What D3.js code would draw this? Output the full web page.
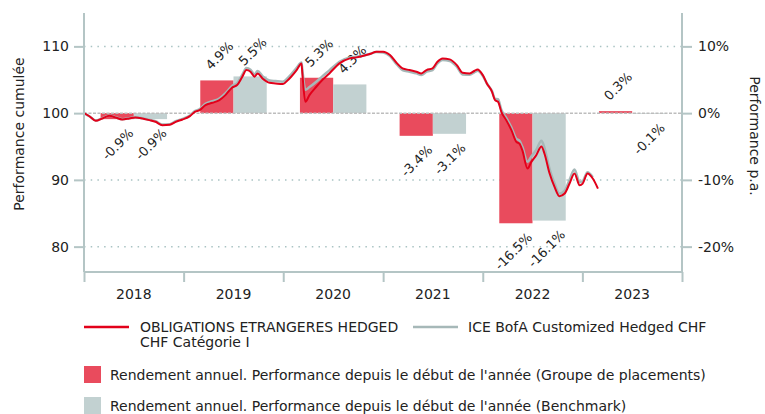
<!DOCTYPE html>
<html>
<head>
<meta charset="utf-8">
<script src="https://cdn.jsdelivr.net/npm/d3@7"></script>
<style>
  body { margin: 0; background: #fff; }
  svg { display: block; font-family: "DejaVu Sans", Verdana, sans-serif; }
</style>
</head>
<body>
<div id="chart"></div>
<script>
// yearly bars (YTD performance, %)
const years = ["2018", "2019", "2020", "2021", "2022", "2023"];
const fundYearly = [-0.9, 4.9, 5.3, -3.4, -16.5, 0.3];
const benchYearly = [-0.9, 5.5, 4.3, -3.1, -16.1, -0.1];

// cumulative performance lines
const fundDates = ["2018-01-01","2018-01-22","2018-02-13","2018-03-09","2018-04-04","2018-04-26","2018-05-21","2018-06-16","2018-07-08","2018-08-03","2018-08-29","2018-09-20","2018-10-15","2018-11-11","2018-12-03","2018-12-28",
  "2019-01-24","2019-02-11","2019-03-01","2019-03-22","2019-04-16","2019-05-12","2019-06-03","2019-06-28","2019-07-16","2019-08-04","2019-08-19","2019-09-03","2019-09-18","2019-09-29","2019-10-17","2019-11-12","2019-12-04","2019-12-29",
  "2020-01-24","2020-02-19","2020-03-08","2020-03-11","2020-03-22","2020-04-06","2020-05-01","2020-05-23","2020-06-18","2020-07-25","2020-09-01","2020-09-26","2020-10-18","2020-11-13","2020-12-08",
  "2021-01-01","2021-01-26","2021-02-21","2021-03-13","2021-04-08","2021-05-03","2021-05-21","2021-06-09","2021-07-01","2021-07-19","2021-08-07","2021-09-02","2021-09-28","2021-10-19","2021-11-14","2021-12-02","2021-12-13",
  "2022-01-01","2022-01-16","2022-02-04","2022-02-15","2022-02-26","2022-03-10","2022-03-28","2022-04-16","2022-05-04","2022-05-15","2022-05-26","2022-06-14","2022-06-28","2022-07-16","2022-08-04","2022-08-15","2022-09-03","2022-09-21","2022-10-09","2022-10-28","2022-11-15","2022-12-03","2022-12-22",
  "2023-01-02","2023-01-20","2023-02-08","2023-02-27"];
const fundValues = [100.0,99.5,98.85,99.2,99.6,99.35,99.05,99.2,99.35,99.2,98.95,98.7,98.2,98.25,98.7,99.05,
  99.55,100.2,100.45,101.2,101.55,101.95,102.7,103.85,104.2,105.45,106.45,106.2,105.45,105.95,105.2,104.55,104.45,104.35,
  105.2,106.45,107.45,105.95,101.7,102.7,103.95,104.95,105.95,107.45,108.2,108.35,108.55,108.85,109.2,
  109.2,108.7,107.45,106.7,106.45,106.2,105.95,106.45,106.7,107.7,108.2,108.05,107.2,106.05,105.95,106.35,106.55,
  105.7,104.45,103.2,101.95,101.7,100.2,98.95,97.45,95.7,95.45,94.45,91.7,92.7,93.7,95.0,93.95,90.95,88.95,87.55,87.95,89.45,90.95,89.2,
  89.45,90.95,90.2,88.7];
const benchDates = fundDates.slice(0, fundDates.length - 1);
const benchValues = [100.0,99.5,98.9,99.25,99.65,99.4,99.1,99.25,99.4,99.25,99.0,98.8,98.3,98.35,98.8,99.15,
  99.65,100.3,100.6,101.4,101.8,102.2,102.95,104.1,104.5,105.75,106.75,106.5,105.8,106.3,105.55,104.9,104.8,104.7,
  105.55,106.8,107.6,106.5,103.5,103.9,104.7,105.5,106.4,107.7,108.35,108.45,108.6,108.85,109.15,
  109.1,108.55,107.25,106.45,106.2,105.95,105.7,106.2,106.45,107.45,107.95,107.8,106.95,105.8,105.75,106.15,106.35,
  105.6,104.45,103.3,102.15,102.1,100.5,99.3,97.85,96.15,95.9,94.95,92.7,93.5,94.5,95.85,94.8,91.6,89.45,87.95,88.4,90.0,91.55,89.65,
  89.8,91.15,90.4];

const leftTicks = [80, 90, 100, 110];
const rightTicks = [-20, -10, 0, 10];

const W = 765, H = 414;
const plotLeft = 84, plotRight = 682, plotTop = 13, plotBottom = 272;
const axisColor = "#b4c5c5";
const red = "#e2001a", redBar = "#e94b5d", greyBar = "#c2d1d1", greyLine = "#a6b8b8";

const svg = d3.select("#chart").append("svg")
  .attr("width", W).attr("height", H);

const parse = d3.timeParse("%Y-%m-%d");
const x = d3.scaleTime()
  .domain([new Date(2018, 0, 1), new Date(2024, 0, 1)])
  .range([plotLeft, plotRight]);
const y = d3.scaleLinear().domain([76.2, 115]).range([plotBottom, plotTop]);
const yR = d3.scaleLinear().domain([-23.8, 15]).range([plotBottom, plotTop]);

const x0 = d3.scaleBand().domain(years).range([plotLeft, plotRight]);
const x1 = d3.scaleBand().domain(["fund", "bench"])
  .range([0, x0.bandwidth()]).paddingInner(0).paddingOuter(0.5);

// grid lines
svg.append("g").selectAll("line")
  .data(leftTicks.filter(d => d !== 100))
  .enter().append("line")
  .attr("x1", plotLeft).attr("x2", plotRight)
  .attr("y1", d => y(d)).attr("y2", d => y(d))
  .attr("stroke", "#a9c3c3")
  .attr("stroke-width", 1.5)
  .attr("stroke-dasharray", "1.5,5.2");

// bars
const barData = [];
years.forEach((yr, i) => {
  barData.push({ year: yr, key: "fund", v: fundYearly[i] });
  barData.push({ year: yr, key: "bench", v: benchYearly[i] });
});
svg.append("g").selectAll("rect")
  .data(barData)
  .enter().append("rect")
  .attr("x", d => x0(d.year) + x1(d.key))
  .attr("width", x1.bandwidth())
  .attr("y", d => yR(Math.max(0, d.v)))
  .attr("height", d => Math.abs(yR(d.v) - yR(0)))
  .attr("fill", d => d.key === "fund" ? redBar : greyBar);

// zero line
svg.append("line")
  .attr("x1", plotLeft).attr("x2", plotRight)
  .attr("y1", y(100)).attr("y2", y(100))
  .attr("stroke", "#bdbdbd")
  .attr("stroke-width", 1.5)
  .attr("stroke-dasharray", "3,1.5");

// bar labels
svg.append("g").selectAll("text")
  .data(barData)
  .enter().append("text")
  .attr("transform", d => {
    const cx = x0(d.year) + x1(d.key) + x1.bandwidth() / 2;
    if (d.v >= 0) return `translate(${cx - 6},${yR(d.v) - 10}) rotate(-45)`;
    return `translate(${cx + 17},${yR(d.v) + 15}) rotate(-45)`;
  })
  .attr("text-anchor", d => d.v >= 0 ? "start" : "end")
  .attr("font-size", "13px")
  .attr("fill", "#222")
  .text(d => d.v.toFixed(1) + "%");

// lines
const line = d3.line()
  .x(d => x(d.date))
  .y(d => y(d.value))
  .curve(d3.curveMonotoneX);

const benchSeries = benchDates.map((d, i) => ({ date: parse(d), value: benchValues[i] }));
const fundSeries = fundDates.map((d, i) => ({ date: parse(d), value: fundValues[i] }));

svg.append("path")
  .datum(benchSeries)
  .attr("d", line)
  .attr("fill", "none")
  .attr("stroke", greyLine)
  .attr("stroke-width", 2.5);

svg.append("path")
  .datum(fundSeries)
  .attr("d", line)
  .attr("fill", "none")
  .attr("stroke", red)
  .attr("stroke-width", 2);

// left axis
const yAxis = svg.append("g")
  .attr("transform", `translate(${plotLeft},0)`)
  .call(d3.axisLeft(y).tickValues(leftTicks).tickSize(10).tickPadding(5));
yAxis.select(".domain").attr("d", `M0,${plotTop}V${plotBottom}`).attr("stroke", axisColor).attr("stroke-width", 2);
yAxis.selectAll(".tick line").attr("stroke", axisColor).attr("stroke-width", 2);
yAxis.selectAll(".tick text").attr("font-size", "14px").attr("fill", "#222")
  .attr("font-family", "DejaVu Sans");

// right axis
const yAxisR = svg.append("g")
  .attr("transform", `translate(${plotRight},0)`)
  .call(d3.axisRight(yR).tickValues(rightTicks).tickSize(10).tickPadding(6)
    .tickFormat(d => d + "%"));
yAxisR.select(".domain").attr("d", `M0,${plotTop}V${plotBottom}`).attr("stroke", axisColor).attr("stroke-width", 2);
yAxisR.selectAll(".tick line").attr("stroke", axisColor).attr("stroke-width", 2);
yAxisR.selectAll(".tick text").attr("font-size", "14px").attr("fill", "#222")
  .attr("font-family", "DejaVu Sans");

// x axis
const xAxis = svg.append("g")
  .attr("transform", `translate(0,${plotBottom})`)
  .call(d3.axisBottom(x).ticks(d3.timeYear.every(1)).tickSize(10).tickFormat(""));
xAxis.select(".domain").attr("d", `M${plotLeft},0H${plotRight}`).attr("stroke", axisColor).attr("stroke-width", 2);
xAxis.selectAll(".tick line").attr("stroke", axisColor).attr("stroke-width", 2);

svg.append("g").selectAll("text")
  .data(years)
  .enter().append("text")
  .attr("x", d => x0(d) + x0.bandwidth() / 2)
  .attr("y", plotBottom + 27)
  .attr("text-anchor", "middle")
  .attr("font-size", "14px")
  .attr("fill", "#222")
  .text(d => d);

// axis titles
svg.append("text")
  .attr("transform", `translate(24,134) rotate(-90)`)
  .attr("text-anchor", "middle")
  .attr("font-size", "14px")
  .attr("fill", "#222")
  .text("Performance cumulée");

svg.append("text")
  .attr("transform", `translate(750,136) rotate(90)`)
  .attr("text-anchor", "middle")
  .attr("font-size", "14px")
  .attr("fill", "#222")
  .text("Performance p.a.");

// legend
const lg = svg.append("g").attr("font-size", "14px").attr("fill", "#222");
lg.append("line").attr("x1", 84).attr("x2", 129).attr("y1", 327).attr("y2", 327)
  .attr("stroke", red).attr("stroke-width", 2.5);
lg.append("text").attr("x", 140).attr("y", 332).text("OBLIGATIONS ETRANGERES HEDGED");
lg.append("text").attr("x", 140).attr("y", 347).text("CHF Catégorie I");
lg.append("line").attr("x1", 413).attr("x2", 458).attr("y1", 327).attr("y2", 327)
  .attr("stroke", greyLine).attr("stroke-width", 2.5);
lg.append("text").attr("x", 468).attr("y", 332).text("ICE BofA Customized Hedged CHF");
lg.append("rect").attr("x", 84).attr("y", 366).attr("width", 17).attr("height", 17).attr("fill", redBar);
lg.append("text").attr("x", 110).attr("y", 380)
  .text("Rendement annuel. Performance depuis le début de l'année (Groupe de placements)");
lg.append("rect").attr("x", 84).attr("y", 397).attr("width", 17).attr("height", 17).attr("fill", greyBar);
lg.append("text").attr("x", 110).attr("y", 411)
  .text("Rendement annuel. Performance depuis le début de l'année (Benchmark)");
</script>
</body>
</html>
